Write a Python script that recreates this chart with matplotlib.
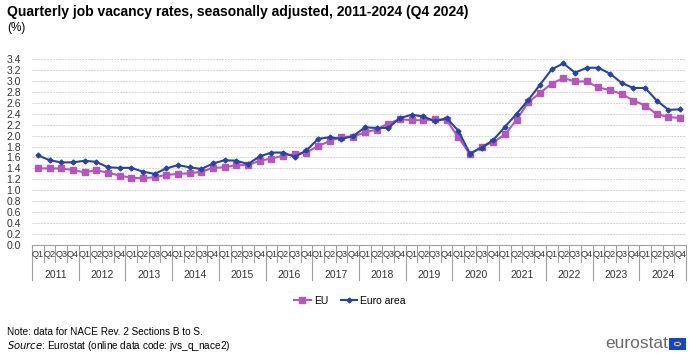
import numpy as np
import matplotlib.pyplot as plt
from matplotlib.patches import Rectangle, Circle

plt.rcParams['font.family'] = ['Liberation Sans', 'DejaVu Sans']

# data ------------------------------------------------
years = [str(y) for y in range(2011, 2025)]
quarters = ['Q1', 'Q2', 'Q3', 'Q4']

eu = [1.40, 1.40, 1.40, 1.37, 1.33, 1.37, 1.32, 1.27,
      1.23, 1.22, 1.24, 1.28, 1.30, 1.31, 1.34, 1.41,
      1.42, 1.46, 1.46, 1.54, 1.58, 1.63, 1.66, 1.69,
      1.81, 1.90, 1.98, 1.98, 2.06, 2.11, 2.22, 2.30,
      2.28, 2.28, 2.30, 2.28, 1.97, 1.66, 1.80, 1.88,
      2.02, 2.29, 2.61, 2.78, 2.95, 3.05, 2.99, 2.99,
      2.88, 2.83, 2.76, 2.64, 2.55, 2.39, 2.34, 2.32]
euro_area = [1.64, 1.55, 1.51, 1.51, 1.54, 1.52, 1.42, 1.41,
             1.41, 1.34, 1.30, 1.40, 1.46, 1.42, 1.39, 1.49,
             1.55, 1.54, 1.48, 1.62, 1.69, 1.69, 1.61, 1.73,
             1.94, 1.97, 1.94, 1.99, 2.15, 2.14, 2.14, 2.32,
             2.38, 2.35, 2.26, 2.32, 2.09, 1.67, 1.78, 1.92,
             2.16, 2.40, 2.65, 2.93, 3.21, 3.32, 3.15, 3.24,
             3.24, 3.13, 2.96, 2.87, 2.87, 2.64, 2.47, 2.48]

col_eu = '#B656BD'
col_ea = '#2644A7'
grey = '#a0a0a0'

x = np.arange(len(eu))

fig = plt.figure(figsize=(7, 3.54), dpi=100)
ax = fig.add_axes([32/700, 109/354, 654/700, 186/354])

ax.plot(x, eu, color=col_eu, lw=1.5, marker='s', ms=4, label='EU', zorder=3)
ax.plot(x, euro_area, color=col_ea, lw=1.5, marker='D', ms=2.5, label='Euro area', zorder=4)

ax.set_xlim(-0.5, len(eu) - 0.5)
ax.set_ylim(0, 3.4)
ax.set_yticks(np.arange(0, 3.41, 0.2))
ax.set_yticklabels(['%.1f' % v for v in np.arange(0, 3.41, 0.2)], fontsize=7.5, color='#333333')
ax.tick_params(axis='y', length=0, pad=8)
ax.grid(axis='y', color='#d4d4d4', ls=(0, (2, 1)), lw=0.7)
ax.set_xticks([])
for s in ['top', 'right', 'left']:
    ax.spines[s].set_visible(False)
ax.spines['bottom'].set_color(grey)

# quarter / year labels under the axis
tr = ax.get_xaxis_transform()
for i in range(len(eu)):
    ax.text(i, -0.028, quarters[i % 4], transform=tr, ha='center', va='top',
            fontsize=6.6, color='#333333', clip_on=False)
for i in range(len(eu) + 1):
    big = (i % 4 == 0)
    ax.plot([i - 0.5, i - 0.5], [0, -0.19 if big else -0.09], transform=tr,
            color=grey, lw=0.8, clip_on=False)
for k, yr in enumerate(years):
    ax.text(4 * k + 1.5, -0.135, yr, transform=tr, ha='center', va='top',
            fontsize=7.5, color='#333333', clip_on=False)

fig.text(7/700, 1 - 12/354, 'Quarterly job vacancy rates, seasonally adjusted, 2011-2024 (Q4 2024)',
         fontsize=10, fontweight='bold', va='center', ha='left')
fig.text(7/700, 1 - 28/354, '(%)', fontsize=8.5, va='center', ha='left')

fig.legend(loc='center', bbox_to_anchor=(350/700, 1 - 301/354), ncol=2, frameon=False,
           fontsize=7.5, handlelength=1.6, columnspacing=1.2, handletextpad=0.3)

fig.text(7/700, 1 - 332/354, 'Note: data for NACE Rev. 2 Sections B to S.', fontsize=7.2, va='center')
fig.text(7/700, 1 - 346/354, '$\\it{Source}$: Eurostat (online data code: jvs_q_nace2)', fontsize=7.2, va='center')

# eurostat logo
fig.text(668/700, 1 - 343/354, 'eurostat', fontsize=12.5, color='#6b6b6b', ha='right', va='center')
fig.patches.append(Rectangle((669/700, 1 - 350/354), 17/700, 12/354, transform=fig.transFigure,
                             facecolor='#0E47CB', edgecolor='none'))
fig.patches.append(Circle((677.5/700, 1 - 344/354), 3.2/700, transform=fig.transFigure,
                          facecolor='none', edgecolor='#FFCC00', lw=0.8))

fig.savefig('out.png', dpi=100)
